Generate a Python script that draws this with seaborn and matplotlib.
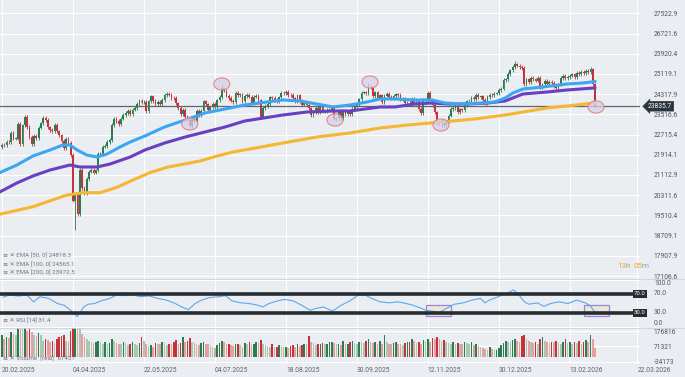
import numpy as np
import matplotlib
matplotlib.use("Agg")
import matplotlib.pyplot as plt
import seaborn as sns
from matplotlib.patches import Ellipse, Rectangle
from matplotlib.lines import Line2D

# DE40 daily closes, 20.02.2025 .. 02.03.2026 (one per trading day)
closes = [
    # Feb
    22314, 22287, 22425, 22410, 22794, 22551, 22551,
    # Mar
    23147, 22327, 23081, 23419, 23009, 22620, 22329, 22676, 22567, 22987,
    23154, 23380, 23288, 22999, 22892, 22852, 23109, 22839, 22679, 22461, 22163,
    # Apr
    22540, 22390, 21900, 20100, 20300, 19550, 21300, 20600, 20400, 20950,
    21250, 21310, 21210, 21290, 21960, 21960, 22240, 22270, 22430, 22500,
    # May
    23090, 23340, 23250, 23120, 23350, 23500, 23570, 23640, 23530, 23700,
    23770, 23930, 24040, 24000, 24000, 23630, 24030, 24230, 24040, 23930, 24000,
    # Jun
    23930, 24090, 24280, 24320, 24300, 24170, 24160, 23950, 23770, 23520,
    23700, 23430, 23320, 23060, 23350, 23270, 23640, 23500, 23650, 24030, 23910,
    # Jul
    23670, 23790, 23930, 23790, 24070, 24210, 24550, 24460, 24260, 24160,
    24060, 24010, 24370, 24290, 24310, 24040, 24240, 24300, 24220, 23970,
    24220, 24260, 24070,
    # Aug
    23430, 23760, 23850, 23920, 24190, 24160, 24080, 24020, 24190, 24380,
    24360, 24420, 24290, 24280, 24150, 24040, 24270, 24050, 23900, 23950, 23900,
    # Sep
    23750, 23490, 23600, 23770, 23600, 23810, 23630, 23630, 23700, 23700,
    23750, 23330, 23360, 23670, 23360, 23640, 23530, 23610, 23530, 23740,
    23800, 23900,
    # Oct
    24110, 24380, 24380, 24370, 24610, 24590, 24240, 24390, 24180, 24270,
    24000, 24260, 24330, 24210, 24150, 24240, 24310, 24280, 24120, 24120,
    23960, 23960, 23950,
    # Nov
    24130, 23950, 24050, 23730, 23570, 24090, 24090, 24380, 24040, 23880,
    23590, 23180, 23160, 23280, 23090, 23240, 23470, 23730, 23770, 23840,
    # Dec
    23590, 23710, 23690, 23880, 24030, 24050, 24160, 24130, 24290, 24190,
    24230, 24080, 23960, 24200, 24290, 24280, 24340, 24350, 24490,
    # Jan
    24540, 24870, 24900, 25120, 25260, 25400, 25500, 25450, 25400, 25350,
    24700, 24900, 24800, 24950, 24900, 24850, 24950, 24600, 24700, 24850, 24700,
    # Feb / Mar 2026
    24800, 24750, 24650, 24550, 24700, 24950, 25050, 24950, 25000, 25050,
    25100, 25000, 25150, 25100, 25200, 25150, 25250, 25200, 25300, 24700, 23835.7,
]
first_open = 22230
wick = 70
wick_hi = {96: 24700, 160: 24750, 224: 25630, 257: 25400}
wick_lo = {32: 18940, 145: 23290, 192: 23000}

# volume in thousands
volume_k = [
    150, 120, 140, 130, 175, 160, 150, 210, 200, 190,
    200, 180, 210, 170, 150, 145, 165, 150, 110, 120,
    115, 100, 110, 95, 120, 135, 145, 150, 110, 105,
    180, 230, 260, 220, 210, 160, 140, 125, 110, 100,
    95, 105, 110, 100, 90, 100, 85, 95, 120, 110,
    95, 90, 85, 100, 95, 80, 90, 105, 85, 80,
    95, 140, 110, 85, 75, 80, 70, 95, 90, 85,
    100, 95, 80, 90, 85, 100, 115, 90, 95, 140,
    105, 110, 130, 100, 95, 85, 80, 95, 105, 90,
    85, 80, 70, 60, 80, 95, 110, 100, 85, 90,
    80, 75, 85, 90, 80, 70, 95, 85, 105, 80,
    90, 100, 95, 115, 85, 80, 75, 70, 85, 65,
    70, 80, 75, 65, 70, 60, 75, 80, 70, 85,
    75, 80, 90, 85, 145, 105, 95, 80, 85, 90,
    95, 85, 90, 100, 105, 95, 85, 90, 80, 110,
    85, 90, 100, 110, 95, 90, 105, 100, 95, 110,
    120, 105, 95, 100, 90, 110, 85, 150, 105, 90,
    85, 95, 100, 90, 85, 80, 95, 100, 105, 125,
    110, 95, 100, 90, 115, 110, 120, 100, 130, 125,
    135, 120, 110, 115, 100, 95, 90, 105, 85, 95,
    90, 85, 100, 95, 90, 105, 80, 85, 75, 70,
    60, 55, 50, 70, 55, 45, 50, 60, 80, 95,
    110, 105, 100, 115, 120, 110, 100, 145, 150, 120,
    110, 100, 95, 105, 90, 125, 140, 110, 100, 95,
    105, 100, 110, 95, 90, 100, 120, 95, 105, 90,
    100, 95, 110, 85, 100, 115, 105, 150, 120, 61.451,
]

# moving averages (candle index, value)
ema50_x = [-1, 6.5, 13.5, 21, 26.6, 29.7, 32.8, 37, 41.5, 45.9, 51.5, 56, 62.4,
           71, 80, 88.6, 97.4, 106, 115.7, 122.7, 130, 137.5, 144.5, 152, 159.4,
           165, 171.6, 180, 187.8, 193.4, 200.9, 209.6, 215.3, 219.7, 223.1,
           227.5, 236.2, 246.7, 253.7, 259]
ema50 = [21203, 21508, 21865, 22103, 22301, 22301, 22103, 21904, 21825, 21944,
         22222, 22420, 22658, 23015, 23292, 23570, 23728, 23887, 24006, 24085,
         24046, 23927, 23808, 23887, 24006, 24125, 24125, 24085, 24085, 23966,
         23927, 23966, 24006, 24164, 24363, 24521, 24601, 24720, 24759, 24818.3]
ema100_x = [-1, 6.5, 13.5, 21, 29.7, 34, 41.5, 47.2, 56, 62.4, 71, 80, 88.6,
            97.4, 106, 122.7, 133.2, 144.5, 152, 165, 171.6, 180, 187.8, 194.8,
            203.5, 212.2, 219.7, 227.5, 238, 246.7, 259]
ema100 = [20437, 20794, 21072, 21310, 21508, 21429, 21429, 21547, 21825, 22103,
          22380, 22618, 22816, 23015, 23253, 23491, 23609, 23649, 23649, 23808,
          23808, 23927, 23966, 23927, 23927, 23966, 24046, 24323, 24402, 24482,
          24565.1]
ema200_x = [-1, 13.5, 28.4, 35.4, 42.8, 50.2, 57.2, 64.6, 72, 79, 86.5, 93.9,
            100.9, 108.3, 122.7, 137.5, 152, 165, 177.3, 192, 206.5, 219.7,
            227.5, 238, 246.7, 259]
ema200 = [19553, 19855, 20319, 20410, 20410, 20624, 20913, 21203, 21417, 21536,
          21667, 21865, 22024, 22142, 22380, 22618, 22777, 22975, 23094, 23213,
          23332, 23491, 23609, 23768, 23847, 23972.5]

# RSI(14)
rsi_x = [0.4, 3.3, 7.1, 10.9, 13.8, 16.6, 20.4, 24.3, 27.1, 30, 31.5, 32.8, 33.8,
         35.7, 37.6, 40.4, 43.3, 47.1, 49.9, 52.8, 56.6, 60.4, 64.3, 68.1, 71.9,
         75.7, 78.5, 81.4, 84.3, 87.1, 90.9, 94.7, 97.6, 100.4, 104.3, 108.1,
         111.9, 113.8, 116.6, 120.4, 123.3, 127.1, 130.9, 134.7, 136.6, 140.4,
         144.3, 148.1, 151.9, 155.7, 158.6, 161.4, 165.2, 169, 172.8, 176.7,
         179.5, 182.4, 185.2, 188.1, 191, 193.8, 197.6, 201.4, 205.2, 209,
         210.9, 212.8, 216.7, 220.5, 223.3, 225.2, 228.1, 230, 233.8, 236.6,
         239.5, 243.3, 247.1, 250.9, 254.7, 256.6, 259]
rsi = [62.8, 67.8, 65.7, 67.8, 53.4, 64.2, 60.6, 49.8, 46.2, 35.4, 28.2, 22.4, 28.2,
       42.6, 48.4, 49.8, 55.6, 60.6, 67.8, 66.4, 68.6, 64.2, 65.7, 60.6, 57,
       49.8, 42.6, 36.8, 49.8, 57, 62.8, 64.2, 66.4, 55.6, 51.3, 49.8,
       46.2, 42.6, 49.8, 55.6, 58.5, 55.6, 46.2, 35.4, 39, 42.6,
       34, 46.2, 55.6, 67.8, 67.8, 60.6, 53.4, 51.3, 53.4, 49.8,
       46.2, 41.2, 35.4, 34, 31.1, 39, 48.4, 51.3, 57, 60.6,
       51.3, 57, 64.2, 71.4, 78.6, 71.4, 53.4, 48.4, 51.3, 44,
       49.8, 53.4, 49.8, 57, 51.3, 46.2, 31.4]

# marked swing points and oversold zones
marks_x = [82, 96, 145.4, 160.7, 191.7, 259.4]
marks_y = [23134, 24720, 23292, 24799, 23094, 23808]
zone_start = [185, 254]
zone_end = [196, 265]
zone_low, zone_high = 24, 47

price_ticks = [27522.9, 26721.6, 25920.4, 25119.1, 24317.9, 23516.6, 22715.4,
               21914.1, 21112.9, 20311.6, 19510.4, 18709.1, 17907.9, 17106.6]
vol_ticks = [176816, 71321, -34173]
date_pos = [0, 31, 62, 93, 124, 155, 186, 217, 248, 277.5]
date_labels = ["20.02.2025", "04.04.2025", "22.05.2025", "04.07.2025", "18.08.2025",
               "30.09.2025", "12.11.2025", "30.12.2025", "13.02.2026", "22.03.2026"]
last_price = 23835.7

BG = "#eaedf1"
sns.set_theme(style="darkgrid", rc={"axes.facecolor": BG, "figure.facecolor": BG,
                                    "grid.color": "white", "grid.linewidth": 0.8})
plt.rcParams["font.family"] = ["Roboto", "DejaVu Sans"]

W, H = 685, 377
fig = plt.figure(figsize=(6.85, 3.77), dpi=100)


def panel(top, bottom):
    return fig.add_axes([0, 1 - bottom / H, 640 / W, (bottom - top) / H])


ax_p = panel(0, 279)
ax_r = panel(279, 327.5)
ax_v = panel(327.5, 364)

c = np.array(closes, dtype=float)
x = np.arange(len(c))
o = np.r_[first_open, c[:-1]]
up = c >= o
col = np.where(up, "#2a7d4e", "#c4323a")
hi = np.maximum(o, c) + wick
lo = np.minimum(o, c) - wick
for k, v in wick_hi.items():
    hi[k] = v
for k, v in wick_lo.items():
    lo[k] = v

ax_p.vlines(x, lo, hi, colors=col, lw=0.6, zorder=2)
ax_p.bar(x, np.maximum(np.abs(c - o), 15), bottom=np.minimum(o, c), width=0.78,
         color=col, lw=0, zorder=2)
ax_p.axhline(last_price, color="#5f656b", lw=0.9, zorder=2.5)
sns.lineplot(x=ema200_x, y=ema200, ax=ax_p, color="#f5b731", lw=2.2, zorder=3)
sns.lineplot(x=ema100_x, y=ema100, ax=ax_p, color="#6a3fc1", lw=2.2, zorder=3)
sns.lineplot(x=ema50_x, y=ema50, ax=ax_p, color="#3ca6f2", lw=2.2, zorder=3)
for mx, my in zip(marks_x, marks_y):
    ax_p.add_patch(Ellipse((mx, my), 7, 480, fc=(0.84, 0.82, 0.93, 0.75),
                           ec="#e38787", lw=0.8, zorder=4))

sns.lineplot(x=rsi_x, y=rsi, ax=ax_r, color="#5aa9f0", lw=0.8, zorder=2.4)
for s, e in zip(zone_start, zone_end):
    ax_r.add_patch(Rectangle((s, zone_low), e - s, zone_high - zone_low,
                             fc="#ebe7d4", ec="#9d84e0", lw=0.9, zorder=2.2))
for lvl in (70, 30):
    ax_r.axhline(lvl, color="#262c31", lw=2.6, zorder=3)
    ax_r.text(1.0, lvl, f"{lvl:.1f}", transform=ax_r.get_yaxis_transform(),
              ha="center", va="center", fontsize=4.3, color="white", zorder=5,
              clip_on=False, bbox=dict(boxstyle="square,pad=0.25", fc="#262c31", ec="none"))

vol = np.array(volume_k) * 1000
grow = np.r_[True, vol[1:] > vol[:-1]]
vcol = np.where(up, np.where(grow, "#2a7d4e", "#a8c8b1"),
                np.where(grow, "#c4323a", "#e79ea1"))
ax_v.bar(x, vol, width=0.7, color=vcol, lw=0)

lab = dict(fontsize=4.8, color="#50575e")
for ax in (ax_p, ax_r, ax_v):
    ax.set_xlim(-0.87, 278.6)
    ax.set_xticks(date_pos)
    ax.yaxis.tick_right()
    ax.tick_params(length=0, pad=10, labelsize=4.8, labelcolor="#50575e")
    ax.set_xlabel("")
    ax.set_ylabel("")
    for sp in ax.spines.values():
        sp.set_visible(False)
    if ax is not ax_v:
        ax.tick_params(axis="x", labelbottom=False)

ax_p.set_ylim(16988, 28050)
ax_p.set_yticks(price_ticks)
ax_p.set_yticklabels([f"{t:.1f}" for t in price_ticks])

ax_r.set_ylim(-0.6, 101.5)
ax_r.set_yticks([0, 30, 70, 100])
ax_r.set_yticklabels([])
rt = ax_r.get_yaxis_transform()
for val, va in ((100, "top"), (70, "center"), (30, "center"), (0, "bottom")):
    ax_r.text(1 + 14 / 640, val, f"{val:.1f}", transform=rt, ha="left", va=va,
              clip_on=False, **lab)

ax_v.set_ylim(-50400, 202800)
ax_v.set_yticks(vol_ticks)
ax_v.set_yticklabels([str(t) for t in vol_ticks])
ax_v.set_xticklabels(date_labels, ha="left")
ax_v.tick_params(axis="x", pad=2.5, labelsize=4.8, labelcolor="#5d646b")

# price tag on the right
fig.text(648 / W, 1 - 106.3 / H, f"{last_price:.1f}", ha="left", va="center",
         fontsize=4.8, color="white",
         bbox=dict(boxstyle="larrow,pad=0.25", fc="#2c3640", ec="none"))

# panel separators
for yy in (279, 327.5):
    fig.add_artist(Line2D([0, 1], [1 - yy / H] * 2, transform=fig.transFigure,
                          color="#cdd2d7", lw=0.6))

# indicator legends
leg = dict(fontsize=4.4, color="#70777e", ha="left", va="center")
fig.text(3 / W, 1 - 255.7 / H, "≡ ✕ EMA [50, 0] 24818.3", **leg)
fig.text(3 / W, 1 - 264.3 / H, "≡ ✕ EMA [100, 0] 24565.1", **leg)
fig.text(3 / W, 1 - 273 / H, "≡ ✕ EMA [200, 0] 23972.5", **leg)
fig.text(3 / W, 1 - 321 / H, "≡ ✕ RSI [14] 31.4", **leg)
fig.text(3 / W, 1 - 358.5 / H, "≡ ✕ Volume  (real)  61451", **leg)

# countdown
for px, s, cl in ((617, "13", "#f2a331"), (626, "h", "#a0a6ac"),
                  (633, "05", "#f2a331"), (642, "m", "#a0a6ac")):
    fig.text(px / W, 1 - 266 / H, s, ha="left", va="center", fontsize=5.8, color=cl)

fig.savefig("out.png", dpi=100, facecolor=BG)
